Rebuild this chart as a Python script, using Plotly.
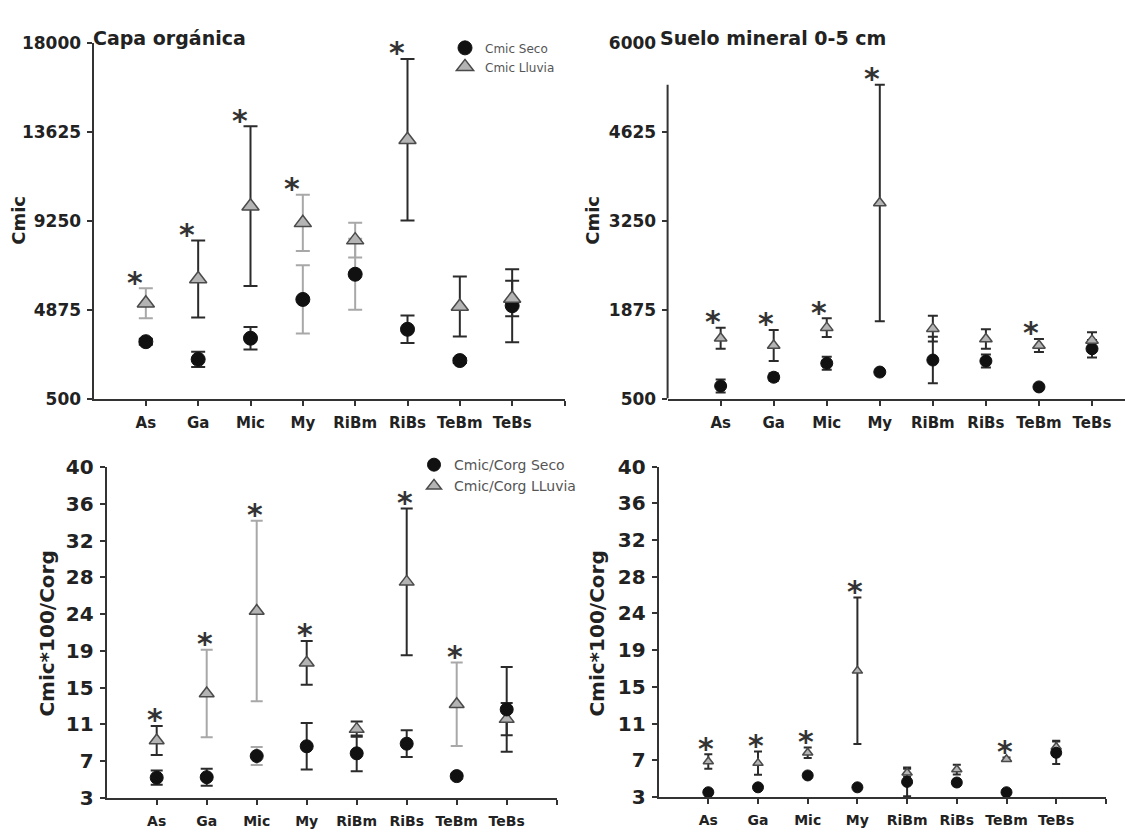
import plotly.graph_objects as go

# ---------------- data ----------------
categories = ["As", "Ga", "Mic", "My", "RiBm", "RiBs", "TeBm", "TeBs"]

# Capa orgánica - Cmic
org_cmic_seco = [3300, 2430, 3470, 5380, 6620, 3910, 2370, 5070]
org_cmic_seco_err = [150, 380, 550, 1680, 1750, 680, 120, 1800]
org_cmic_lluvia = [5190, 6385, 9970, 9150, 8300, 13240, 5030, 5430]
org_cmic_lluvia_err = [740, 1900, 3930, 1380, 850, 3980, 1480, 875]
org_cmic_sig = [1, 1, 1, 1, 0, 1, 0, 0]

# Suelo mineral 0-5 cm - Cmic
min_cmic_seco = [695, 830, 1046, 910, 1096, 1081, 680, 1270]
min_cmic_seco_err = [100, 60, 100, 40, 360, 100, 40, 135]
min_cmic_lluvia = [1432, 1322, 1597, 3525, 1582, 1421, 1322, 1400]
min_cmic_lluvia_err = [163, 240, 145, 1830, 200, 150, 100, 125]
min_cmic_sig = [1, 1, 1, 1, 0, 0, 1, 0]

# Capa orgánica - Cmic*100/Corg
org_ratio_seco = [5.25, 5.3, 7.67, 8.76, 7.97, 9.05, 5.42, 12.88]
org_ratio_seco_err = [0.8, 0.95, 1.0, 2.6, 2.0, 1.5, 0.3, 4.74]
org_ratio_lluvia = [9.41, 14.66, 23.9, 18.1, 10.68, 27.16, 13.47, 11.8]
org_ratio_lluvia_err = [1.63, 4.9, 10.1, 2.45, 0.85, 8.2, 4.67, 1.8]
org_ratio_sig = [1, 1, 1, 1, 0, 1, 1, 0]

# Suelo mineral - Cmic*100/Corg
min_ratio_seco = [3.54, 4.09, 5.42, 4.09, 4.7, 4.63, 3.54, 7.96]
min_ratio_seco_err = [0.3, 0.2, 0.2, 0.2, 1.6, 0.4, 0.3, 1.25]
min_ratio_lluvia = [6.98, 6.8, 7.96, 17.13, 5.72, 6.08, 7.24, 8.6]
min_ratio_lluvia_err = [0.8, 1.3, 0.6, 8.2, 0.45, 0.55, 0.2, 0.7]
min_ratio_sig = [1, 1, 1, 1, 0, 0, 1, 0]

cmic_org_ticks = [500, 4875, 9250, 13625, 18000]
cmic_min_ticks = [500, 1875, 3250, 4625, 6000]
ratio_ticklabels = ["3", "7", "11", "15", "19", "24", "28", "32", "36", "40"]

panel_titles = ["Capa orgánica", "Suelo mineral 0-5 cm"]
y_titles = ["Cmic", "Cmic", "Cmic*100/Corg", "Cmic*100/Corg"]
legend_names_top = ["Cmic Seco", "Cmic Lluvia"]
legend_names_bottom = ["Cmic/Corg Seco", "Cmic/Corg LLuvia"]

# ---------------- styling ----------------
W, H = 1125, 835
FONT = "DejaVu Sans"
AX = "#333333"
DARK = "#2b2b2b"
LIGHT = "#a8a8a8"
TRI_FILL = "#b4b4b4"
TRI_LINE = "#4a4a4a"

x_pos = list(range(1, len(categories) + 1))


def px_x(p):
    return p / W


def px_y(p):
    return 1 - p / H


panels = [
    dict(ax="", seco=org_cmic_seco, seco_err=org_cmic_seco_err,
         llu=org_cmic_lluvia, llu_err=org_cmic_lluvia_err, sig=org_cmic_sig,
         seco_shade="dddllddd", llu_shade="lddllddd",
         names=legend_names_top, legend="legend", msize=(14, 15), cap=7,
         star_dx=-11, seco_top=False),
    dict(ax="2", seco=min_cmic_seco, seco_err=min_cmic_seco_err,
         llu=min_cmic_lluvia, llu_err=min_cmic_lluvia_err, sig=min_cmic_sig,
         seco_shade="dddddddd", llu_shade="dddddddd",
         names=legend_names_top, legend=None, msize=(12, 11), cap=5,
         star_dx=-8, seco_top=False),
    dict(ax="3", seco=org_ratio_seco, seco_err=org_ratio_seco_err,
         llu=org_ratio_lluvia, llu_err=org_ratio_lluvia_err, sig=org_ratio_sig,
         seco_shade="ddlddddd", llu_shade="dlldddld",
         names=legend_names_bottom, legend="legend2", msize=(13, 13), cap=6,
         star_dx=-2, seco_top=True),
    dict(ax="4", seco=min_ratio_seco, seco_err=min_ratio_seco_err,
         llu=min_ratio_lluvia, llu_err=min_ratio_lluvia_err, sig=min_ratio_sig,
         seco_shade="dddddddd", llu_shade="dddddddd",
         names=legend_names_bottom, legend=None, msize=(11, 9), cap=4,
         star_dx=-2, seco_top=True),
]

fig = go.Figure()


def add_errors(p, vals, errs, shades):
    for shade, col in (("d", DARK), ("l", LIGHT)):
        idx = [i for i, s in enumerate(shades) if s == shade]
        if not idx:
            continue
        fig.add_trace(go.Scatter(
            x=[x_pos[i] for i in idx], y=[vals[i] for i in idx],
            mode="markers", marker=dict(size=1, opacity=0),
            error_y=dict(type="data", array=[errs[i] for i in idx],
                         color=col, thickness=2, width=p["cap"]),
            xaxis="x" + p["ax"], yaxis="y" + p["ax"],
            showlegend=False, hoverinfo="skip"))


for p in panels:
    add_errors(p, p["seco"], p["seco_err"], p["seco_shade"])
    add_errors(p, p["llu"], p["llu_err"], p["llu_shade"])
    seco_tr = go.Scatter(
        x=x_pos, y=p["seco"], mode="markers", name=p["names"][0],
        marker=dict(symbol="circle", size=p["msize"][0], color="#111111",
                    line=dict(color="#111111", width=1)),
        xaxis="x" + p["ax"], yaxis="y" + p["ax"], cliponaxis=False,
        showlegend=p["legend"] is not None, legendrank=1)
    llu_tr = go.Scatter(
        x=x_pos, y=p["llu"], mode="markers", name=p["names"][1],
        marker=dict(symbol="triangle-up", size=p["msize"][1], color=TRI_FILL,
                    line=dict(color=TRI_LINE, width=1.5)),
        xaxis="x" + p["ax"], yaxis="y" + p["ax"], cliponaxis=False,
        showlegend=p["legend"] is not None, legendrank=2)
    if p["legend"]:
        seco_tr.legend = p["legend"]
        llu_tr.legend = p["legend"]
    order = [llu_tr, seco_tr] if p["seco_top"] else [seco_tr, llu_tr]
    for t in order:
        fig.add_trace(t)

# ---------------- axes ----------------
xtick_vals = x_pos + [len(categories) + 1]
xtick_text = categories + [""]
ratio_tickvals = [3 + k * 37 / 9 for k in range(len(ratio_ticklabels))]

geom = {
    "": dict(x=(93.5, 564.5), y=(398, 32), xr=[0, 9], yr=[500, 18000],
             yt=cmic_org_ticks, ytt=[str(v) for v in cmic_org_ticks], tf=17, xf=15),
    "2": dict(x=(667.6, 1125), y=(398, 32), xr=[0, (1125 - 667.6) / 53.05], yr=[500, 6000],
              yt=cmic_min_ticks, ytt=[str(v) for v in cmic_min_ticks], tf=17, xf=15),
    "3": dict(x=(106.7, 556.7), y=(809, 468.6), xr=[0, 9], yr=[3, 40],
              yt=ratio_tickvals, ytt=ratio_ticklabels, tf=20, xf=14),
    "4": dict(x=(658.6, 1105.9), y=(808.3, 468), xr=[0, 9], yr=[3, 40],
              yt=ratio_tickvals, ytt=ratio_ticklabels, tf=20, xf=14),
}

for k, g in geom.items():
    fig.layout["xaxis" + k] = dict(
        domain=[px_x(g["x"][0]), min(1.0, px_x(g["x"][1]))], range=g["xr"],
        anchor="y" + k, showgrid=False, zeroline=False, showline=True,
        linecolor=AX, linewidth=2, ticks="outside", ticklen=5, tickwidth=2,
        tickcolor=AX, tickmode="array", tickvals=xtick_vals, ticktext=xtick_text,
        tickfont=dict(family=FONT, size=g["xf"], color="#222", weight="bold"),
        ticklabelstandoff=4, fixedrange=True)
    fig.layout["yaxis" + k] = dict(
        domain=[px_y(g["y"][0]), px_y(g["y"][1])], range=g["yr"],
        anchor="x" + k, showgrid=False, zeroline=False, showline=(k != "2"),
        linecolor=AX, linewidth=2, ticks="outside", ticklen=5, tickwidth=2,
        tickcolor=AX, tickmode="array", tickvals=g["yt"], ticktext=g["ytt"],
        tickfont=dict(family=FONT, size=g["tf"], color="#222", weight="bold"),
        ticklabelstandoff=2, fixedrange=True)

# partial y-axis line of the mineral-soil Cmic panel (drawn up to the tallest error bar)
fig.add_shape(type="line", xref="x2 domain", yref="y2", x0=0, x1=0,
              y0=500, y1=max(v + e for v, e in zip(min_cmic_lluvia, min_cmic_lluvia_err)),
              line=dict(color=AX, width=2))

# ---------------- significance stars ----------------
for p in panels:
    for i, s in enumerate(p["sig"]):
        if s:
            fig.add_annotation(
                x=x_pos[i], y=p["llu"][i] + p["llu_err"][i],
                xref="x" + p["ax"], yref="y" + p["ax"], text="*", showarrow=False,
                font=dict(family=FONT, size=30, color="#333", weight="bold"),
                xshift=p["star_dx"], yshift=6, yanchor="middle", xanchor="center")

# ---------------- titles ----------------
fig.add_annotation(x=px_x(91), y=px_y(27), xref="paper", yref="paper",
                   text=panel_titles[0], showarrow=False, xanchor="left", yanchor="middle",
                   font=dict(family=FONT, size=19, color="#222", weight="bold"))
fig.add_annotation(x=px_x(658), y=px_y(27), xref="paper", yref="paper",
                   text=panel_titles[1], showarrow=False, xanchor="left", yanchor="middle",
                   font=dict(family=FONT, size=19, color="#222", weight="bold"))

ytitle_pos = [(19, 215, 18), (593, 215, 18), (47, 640, 20), (597, 640, 20)]
for t, (xx, yy, fs) in zip(y_titles, ytitle_pos):
    fig.add_annotation(x=px_x(xx), y=px_y(yy), xref="paper", yref="paper",
                       text=t, showarrow=False, textangle=-90,
                       xanchor="center", yanchor="middle",
                       font=dict(family=FONT, size=fs, color="#222", weight="bold"))

fig.update_layout(
    width=W, height=H, margin=dict(l=0, r=0, t=0, b=0),
    paper_bgcolor="white", plot_bgcolor="white",
    font=dict(family=FONT, color="#222"),
    showlegend=True,
    legend=dict(x=px_x(445), y=px_y(22), xanchor="left", yanchor="top",
                bgcolor="rgba(0,0,0,0)", font=dict(family=FONT, size=12, color="#555"),
                tracegroupgap=0, itemsizing="trace"),
    legend2=dict(x=px_x(414), y=px_y(450), xanchor="left", yanchor="top",
                 bgcolor="rgba(0,0,0,0)", font=dict(family=FONT, size=14, color="#555"),
                 tracegroupgap=0, itemsizing="trace"),
)

fig.write_html("out.html", config={"displayModeBar": False},
               post_script="document.body.style.margin='0px';document.body.style.padding='0px';")
